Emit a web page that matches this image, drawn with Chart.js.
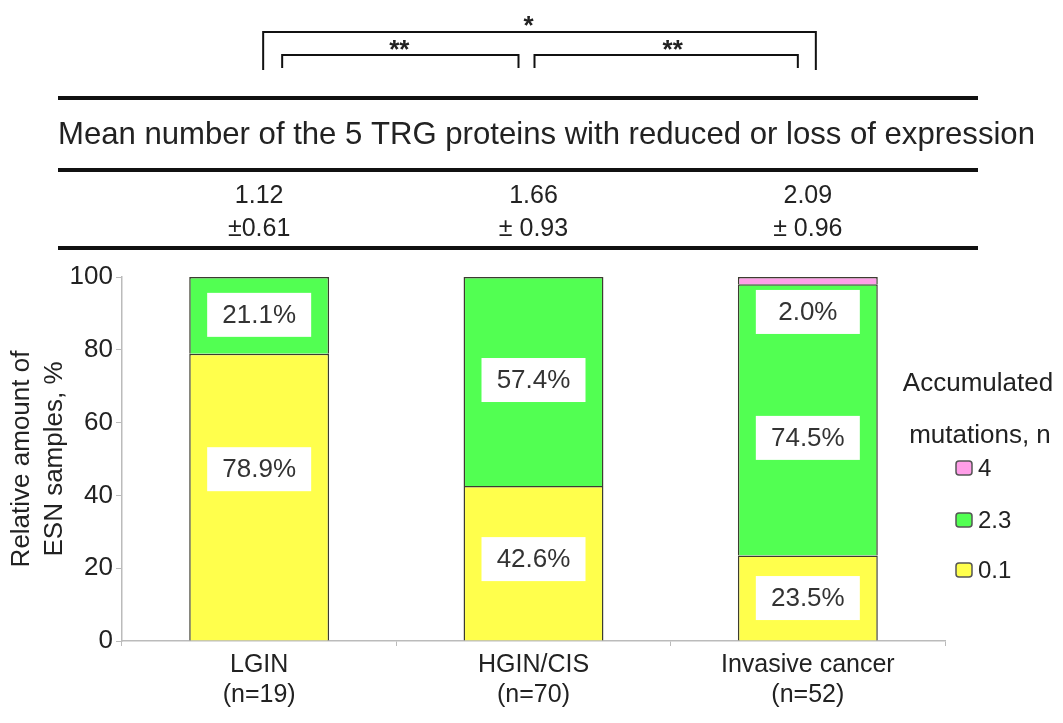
<!DOCTYPE html>
<html>
<head>
<meta charset="utf-8">
<script src="https://cdn.jsdelivr.net/npm/chart.js@4.4.1/dist/chart.umd.min.js"></script>
<style>
  html, body { margin: 0; padding: 0; background: #fff; }
  #wrap { width: 1063px; height: 723px; }
</style>
</head>
<body>
<div id="wrap"><canvas id="chart"></canvas></div>
<script>
// data
const categories = [['LGIN', '(n=19)'], ['HGIN/CIS', '(n=70)'], ['Invasive cancer', '(n=52)']];
const seriesNames = ['0.1', '2.3', '4'];
const low = [78.9, 42.6, 23.5];
const mid = [21.1, 57.4, 74.5];
const high = [null, null, 2.0];
// where each % label box sits (axis units)
const lowLabelAt = [47.2, 22.5, 11.8];
const midLabelAt = [89.6, 71.7, 55.8];
const highLabelAt = [null, null, 90.4];
const means = ['1.12', '1.66', '2.09'];
const sds = ['±0.61', '± 0.93', '± 0.96'];
const yTicks = [0, 20, 40, 60, 80, 100];
const tableTitle = 'Mean number of the 5 TRG proteins with reduced or loss of expression';
const legendTitle = ['Accumulated', 'mutations, n'];

const FONT = '"Liberation Sans", Arial, sans-serif';
const colors = ['#ffff4c', '#52ff52', '#ff9ee8'];
const labelAt = [lowLabelAt, midLabelAt, highLabelAt];

// white boxes with the percentages
const valueLabels = {
  id: 'valueLabels',
  afterDatasetsDraw(chart) {
    const ctx = chart.ctx;
    const y = chart.scales.y;
    ctx.save();
    ctx.font = '26px ' + FONT;
    ctx.textAlign = 'center';
    ctx.textBaseline = 'middle';
    chart.data.datasets.forEach((ds, di) => {
      const meta = chart.getDatasetMeta(di);
      ds.data.forEach((v, i) => {
        if (v == null || labelAt[di][i] == null) return;
        const px = meta.data[i].x;
        const py = y.getPixelForValue(labelAt[di][i]);
        ctx.fillStyle = '#fff';
        ctx.fillRect(px - 52, py - 22, 104, 44);
        ctx.fillStyle = '#333';
        ctx.fillText(v.toFixed(1) + '%', px, py + 1);
      });
    });
    ctx.restore();
  }
};

// table with means and significance brackets above the plot
const topTable = {
  id: 'topTable',
  afterDraw(chart) {
    const ctx = chart.ctx;
    const x = chart.scales.x;
    const c = categories.map((_, i) => x.getPixelForValue(i));
    ctx.save();
    ctx.strokeStyle = '#111';
    ctx.fillStyle = '#222';

    // thick rules
    ctx.lineWidth = 4;
    [98, 170, 248].forEach(yy => {
      ctx.beginPath();
      ctx.moveTo(58, yy);
      ctx.lineTo(978, yy);
      ctx.stroke();
    });

    // title row, fitted to the rule width
    let size = 28;
    ctx.font = size + 'px ' + FONT;
    size = size * 977 / ctx.measureText(tableTitle).width;
    ctx.font = size + 'px ' + FONT;
    ctx.textAlign = 'left';
    ctx.textBaseline = 'middle';
    ctx.fillText(tableTitle, 58, 135);

    // mean +- sd
    ctx.font = '25px ' + FONT;
    ctx.textAlign = 'center';
    c.forEach((cx, i) => {
      ctx.fillText(means[i], cx, 196);
      ctx.fillText(sds[i], cx, 229);
    });

    // brackets
    ctx.lineWidth = 2;
    const bracket = (x1, x2, top, bottom) => {
      ctx.beginPath();
      ctx.moveTo(x1, bottom);
      ctx.lineTo(x1, top);
      ctx.lineTo(x2, top);
      ctx.lineTo(x2, bottom);
      ctx.stroke();
    };
    bracket(c[0] + 4, c[2] + 8, 32, 70);
    bracket(c[0] + 23, c[1] - 15, 55, 68);
    bracket(c[1] + 1, c[2] - 10, 55, 68);

    ctx.font = 'bold 26px ' + FONT;
    ctx.fillText('*', (c[1] + c[2]) / 2 - 142, 27);
    ctx.fillText('**', (c[0] + c[1]) / 2 + 3, 51);
    ctx.fillText('**', (c[1] + c[2]) / 2 + 2, 51);
    ctx.restore();
  }
};

// legend on the right, top series first
const sideLegend = {
  id: 'sideLegend',
  afterDraw(chart) {
    const ctx = chart.ctx;
    ctx.save();
    ctx.fillStyle = '#222';
    ctx.font = '26px ' + FONT;
    ctx.textAlign = 'center';
    ctx.textBaseline = 'middle';
    ctx.fillText(legendTitle[0], 978, 384);
    ctx.fillText(legendTitle[1], 980, 436);
    ctx.font = '24px ' + FONT;
    ctx.textAlign = 'left';
    const rows = [468, 520, 570];
    [2, 1, 0].forEach((di, r) => {
      const ds = chart.data.datasets[di];
      ctx.beginPath();
      ctx.roundRect(956, rows[r] - 7, 16, 14, 3);
      ctx.fillStyle = ds.backgroundColor;
      ctx.fill();
      ctx.lineWidth = 1.5;
      ctx.strokeStyle = '#555';
      ctx.stroke();
      ctx.fillStyle = '#222';
      ctx.fillText(ds.label, 978, rows[r] + 1);
    });
    ctx.restore();
  }
};

const datasets = [low, mid, high].map((d, i) => ({
  label: seriesNames[i],
  data: d,
  backgroundColor: colors[i],
  borderColor: '#3c3c30',
  borderWidth: 1.5,
  borderSkipped: 'start',
  inflateAmount: 0,
  barPercentage: 0.51,
  categoryPercentage: 1
}));

new Chart(document.getElementById('chart'), {
  type: 'bar',
  data: { labels: categories, datasets },
  plugins: [valueLabels, topTable, sideLegend],
  options: {
    responsive: true,
    maintainAspectRatio: false,
    animation: false,
    layout: { padding: { top: 277, right: 118, left: 0, bottom: 0 } },
    plugins: { legend: { display: false }, tooltip: { enabled: false } },
    scales: {
      x: {
        stacked: true,
        afterFit: s => { s.height = 82; },
        border: { color: '#bbb', width: 1.5 },
        grid: { drawOnChartArea: false, tickLength: 5, color: '#bbb' },
        ticks: { color: '#222', font: { family: FONT, size: 25 }, padding: 4, maxRotation: 0 }
      },
      y: {
        stacked: true,
        min: 0,
        max: 100,
        afterFit: s => { s.width = 122; },
        afterBuildTicks: s => { s.ticks = yTicks.map(v => ({ value: v })); },
        border: { color: '#bbb', width: 1.5 },
        grid: { drawOnChartArea: false, tickLength: 6, color: '#bbb' },
        ticks: { color: '#222', font: { family: FONT, size: 26 }, padding: 3 },
        title: {
          display: true,
          text: ['Relative amount of', 'ESN samples, %'],
          color: '#222',
          font: { family: FONT, size: 26, lineHeight: 1.27 },
          padding: { top: 5, bottom: 0 }
        }
      }
    }
  }
});
</script>
</body>
</html>
